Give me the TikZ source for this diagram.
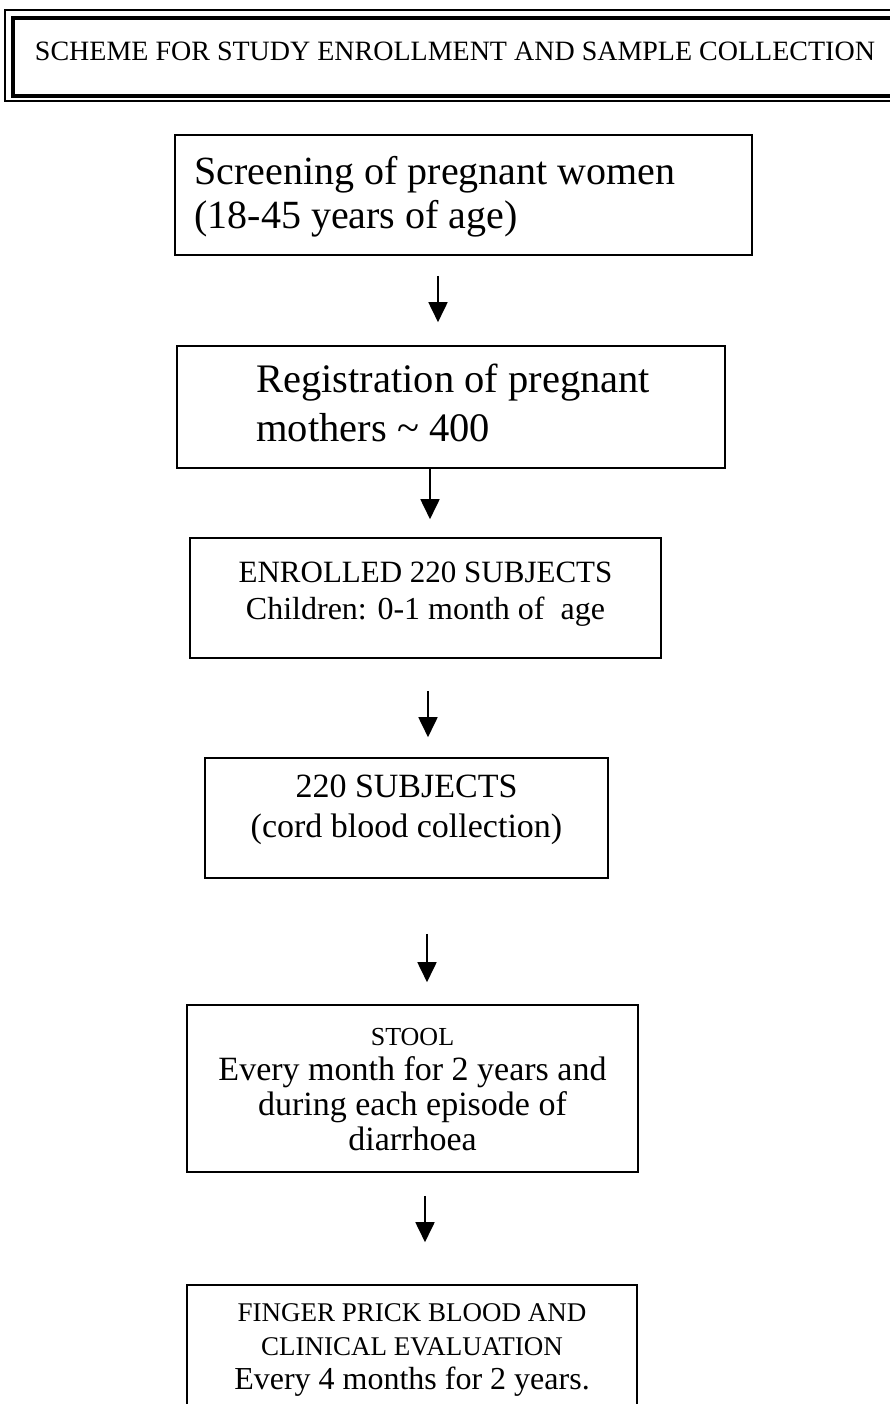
\documentclass[tikz,border=0pt]{standalone}
\usepackage{fontspec}
\setmainfont{Liberation Serif}
\usetikzlibrary{arrows.meta}
\newcommand{\fsz}[2]{\fontsize{#1}{#2}\selectfont}
\tikzset{
  box/.style={draw, line width=1.6pt, rectangle, inner sep=0pt},
  arr/.style={line width=1.8pt, -{Triangle[width=19pt,length=20pt]}},
  txt/.style={inner sep=0pt, align=left, anchor=north west},
  ctxt/.style={inner sep=0pt, align=center},
}
\begin{document}
\begin{tikzpicture}[x=1pt,y=-1pt]
\useasboundingbox (0,0) rectangle (889,1404);
% title frame
\node[draw, line width=1.5pt, minimum width=900pt, minimum height=91pt, inner sep=0pt] (tout) at (455,55.5) {};
\node[draw, line width=4pt, minimum width=884pt, minimum height=78pt, inner sep=0pt] (title) at (455,57) {};
\node[inner sep=0pt, font=\fsz{28}{30}] (ttext) at (455,51) {SCHEME FOR STUDY ENROLLMENT AND SAMPLE COLLECTION};

% box 1
\node[box, minimum width=577pt, minimum height=120pt] (b1) at (463.5,195) {};
\node[txt, font=\fsz{40}{44}] (t1) at ([xshift=20pt,yshift=-22pt]b1.north west)
  {Screening of pregnant women\\(18-45 years of age)};

% box 2
\node[box, minimum width=548pt, minimum height=122pt] (b2) at (451,407) {};
\node[txt, font=\fsz{40.5}{49}] (t2) at ([xshift=80pt,yshift=-19pt]b2.north west)
  {Registration of pregnant\\mothers \textasciitilde\ 400};

% box 3
\node[box, minimum width=471pt, minimum height=120pt] (b3) at (425.5,598) {};
\node[ctxt, font=\fsz{31}{37}] (t3) at ([yshift=4pt]b3.center)
  {\fsz{31}{37}ENROLLED 220 SUBJECTS\\\fsz{32}{37}Children: 0-1 month of\ \ age};

% box 4
\node[box, minimum width=403pt, minimum height=120pt] (b4) at (406.5,818) {};
\node[ctxt, font=\fsz{34}{40}] (t4) at ([yshift=8pt]b4.center)
  {220 SUBJECTS\\(cord blood collection)};

% box 5
\node[box, minimum width=451pt, minimum height=167pt] (b5) at (412.5,1088.5) {};
\node[ctxt, font=\fsz{34}{35}] (t5) at ([yshift=-1pt]b5.center)
  {\fsz{26}{35}STOOL\\\fsz{34}{35}Every month for 2 years and\\\fsz{34}{35}during each episode of\\\fsz{34}{35}diarrhoea};

% box 6
\node[box, minimum width=450pt, minimum height=135pt] (b6) at (412,1352.5) {};
\node[ctxt, font=\fsz{32}{34}] (t6) at ([yshift=3pt]b6.center)
  {\fsz{27}{34}FINGER PRICK BLOOD AND\\\fsz{27}{34}CLINICAL EVALUATION\\\fsz{32}{34}Every 4 months for 2 years.};

% arrows
\draw[arr] ([xshift=-25.5pt,yshift=-20pt]b1.south) -- ([xshift=-13pt,yshift=23pt]b2.north);
\draw[arr] ([xshift=-21pt]b2.south) -- ([xshift=4.5pt,yshift=18pt]b3.north);
\draw[arr] ([xshift=2.5pt,yshift=-32pt]b3.south) -- ([xshift=21.5pt,yshift=20pt]b4.north);
\draw[arr] ([xshift=20.5pt,yshift=-55pt]b4.south) -- ([xshift=14.5pt,yshift=22pt]b5.north);
\draw[arr] ([xshift=12.5pt,yshift=-23pt]b5.south) -- ([xshift=13pt,yshift=42pt]b6.north);
\end{tikzpicture}
\end{document}
